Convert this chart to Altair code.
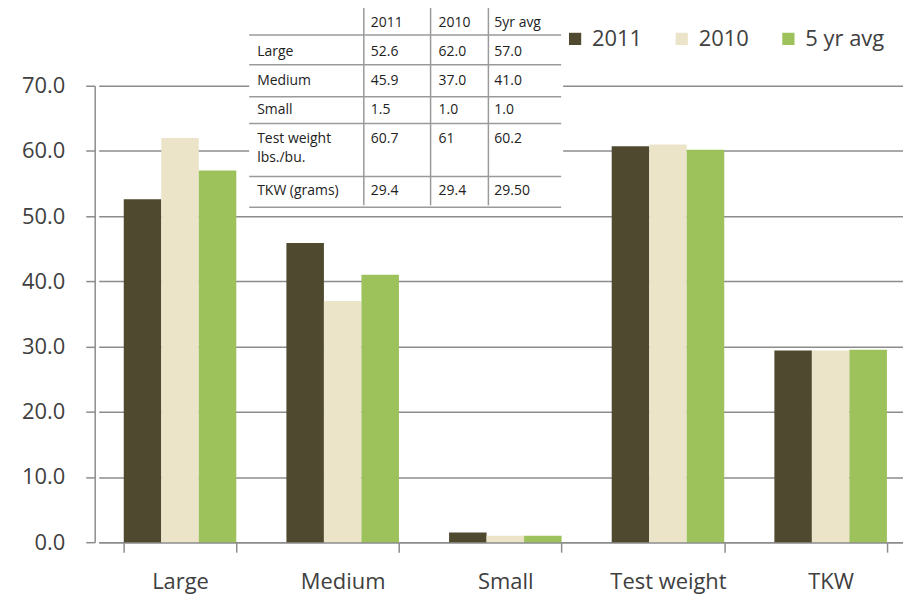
import altair as alt
import pandas as pd

categories = ["Large", "Medium", "Small", "Test weight", "TKW"]
series = ["2011", "2010", "5 yr avg"]
v2011 = [52.6, 45.9, 1.5, 60.7, 29.4]
v2010 = [62.0, 37.0, 1.0, 61.0, 29.4]
vavg = [57.0, 41.0, 1.0, 60.2, 29.5]
colors = ["#4f4a2f", "#ebe4c9", "#9dc25c"]

table_header = ["", "2011", "2010", "5yr avg"]
table_labels = ["Large", "Medium", "Small", "Test weight\nlbs./bu.", "TKW (grams)"]
table_2011 = ["52.6", "45.9", "1.5", "60.7", "29.4"]
table_2010 = ["62.0", "37.0", "1.0", "61", "29.4"]
table_avg = ["57.0", "41.0", "1.0", "60.2", "29.50"]

FONT = "Open Sans"
GRAY = "#8c8c8c"
TXT = "#404040"

rows = []
for s, vals in zip(series, [v2011, v2010, vavg]):
    for c, v in zip(categories, vals):
        rows.append({"category": c, "series": s, "value": v})
df = pd.DataFrame(rows)

cells = []
for ci, t in enumerate(table_header):
    cells.append({"col": ci, "row": 0, "text": t})
for ri in range(len(table_labels)):
    for ci, col in enumerate([table_labels, table_2011, table_2010, table_avg]):
        cells.append({"col": ci, "row": ri + 1, "text": col[ri]})
cells_df = pd.DataFrame(cells)

hlines = pd.DataFrame({"line": list(range(6))})
vlines = pd.DataFrame({"vline": list(range(3))})

bars = alt.Chart(df).mark_bar().encode(
    x=alt.X("category:N", sort=categories, title=None,
            scale=alt.Scale(range=[4, 820], paddingInner=0.308, paddingOuter=0.154),
            axis=alt.Axis(labelAngle=0, labelFontSize=22, labelColor=TXT, labelFont=FONT,
                          tickBand="extent", tickSize=10, tickColor=GRAY, tickWidth=1.5,
                          domainColor=GRAY, domainWidth=1.5, labelPadding=19)),
    xOffset=alt.XOffset("series:N", sort=series,
                        scale=alt.Scale(paddingInner=0, paddingOuter=0)),
    y=alt.Y("value:Q", title=None,
            scale=alt.Scale(domain=[0, 70], nice=False),
            axis=alt.Axis(values=[0, 10, 20, 30, 40, 50, 60, 70], format=".1f",
                          labelFontSize=22, labelColor=TXT, labelFont=FONT,
                          tickSize=9, tickColor=GRAY, tickWidth=1.5,
                          domainColor=GRAY, domainWidth=1.5, labelPadding=21,
                          grid=True, gridColor=GRAY, gridWidth=1.5)),
    color=alt.Color("series:N", sort=series,
                    scale=alt.Scale(domain=series, range=colors),
                    legend=alt.Legend(title=None, orient="none", direction="horizontal",
                                      legendX=471, legendY=-58, symbolType="square",
                                      symbolSize=150, symbolStrokeWidth=0,
                                      labelFontSize=22, labelFont=FONT, labelColor=TXT,
                                      columnPadding=28, labelOffset=6)),
)

bg = alt.Chart(pd.DataFrame({"k": [0]})).mark_rect(color="white").encode(
    x=alt.value(155), x2=alt.value(470), y=alt.value(-85), y2=alt.value(123)
)

hrule = alt.Chart(hlines).mark_rule(color="#9a9a9a", strokeWidth=1.5).encode(
    y=alt.Y("line:Q", scale=alt.Scale(domain=[0, 1, 2, 3, 4, 5],
                                      range=[-51, -21, 11, 38, 91, 122]), axis=None),
    x=alt.value(155), x2=alt.value(468),
)

vrule = alt.Chart(vlines).mark_rule(color="#9a9a9a", strokeWidth=1.5).encode(
    x=alt.X("vline:Q", scale=alt.Scale(domain=[0, 1, 2], range=[270, 337, 395]), axis=None),
    y=alt.value(-78), y2=alt.value(120),
)

text = alt.Chart(cells_df).mark_text(align="left", baseline="top", fontSize=14,
                                     font=FONT, color="#222222", lineBreak="\n",
                                     lineHeight=20).encode(
    x=alt.X("col:Q", scale=alt.Scale(domain=[0, 1, 2, 3], range=[163, 277, 345, 401]), axis=None),
    y=alt.Y("row:Q", scale=alt.Scale(domain=[0, 1, 2, 3, 4, 5],
                                     range=[-70, -41, -12, 17, 46, 99]), axis=None),
    text="text:N",
)

chart = alt.layer(bars, bg, hrule, vrule, text).resolve_scale(
    x="independent", y="independent"
).properties(
    width=811, height=458,
    autosize=alt.AutoSizeParams(type="none"),
    padding={"left": 87, "top": 77, "right": 0, "bottom": 55},
).configure_view(stroke=None)

chart.save("out.html", embed_options={"renderer": "svg", "actions": False})
